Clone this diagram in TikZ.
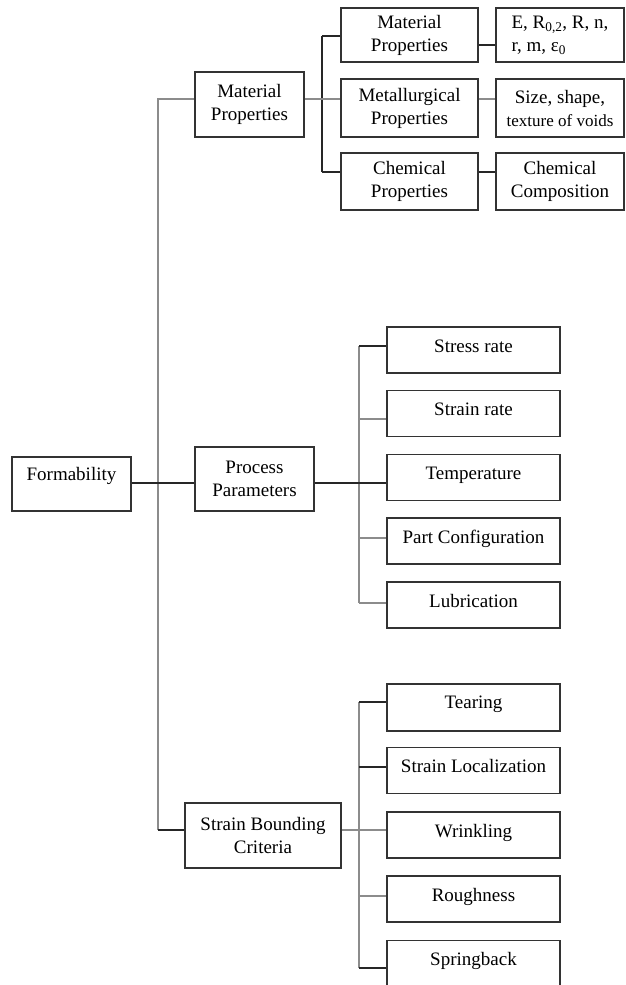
\documentclass[tikz,border=0pt]{standalone}
\usepackage{fontspec}
\setmainfont{Liberation Serif}
\usetikzlibrary{positioning}
\tikzset{
	box/.style={draw=black!80, line width=1.6pt, inner xsep=2pt, inner ysep=0pt, align=center},
	leaf/.style={box, minimum width=173pt, text height=25pt, text depth=21pt},
	link/.style={line width=1.5pt, black!85},
	glink/.style={line width=1.5pt, black!45},
}

\begin{document}
\begin{tikzpicture}[x=1pt, y=-1pt, font=\fontsize{19}{23}\selectfont]
	\useasboundingbox (0,0) rectangle (625,985);
	\fill[white] (0,0) rectangle (625,985);

	% root and the three branches
	\node[box, minimum width=119pt, text height=23pt, text depth=31pt] (form) at (71.5,484) {Formability};
	\node[box, minimum width=109pt, minimum height=65pt] (matp) at (249.5,104.5) {Material\\Properties};
	\node[box, minimum width=119pt, minimum height=64pt] (proc) at (254.5,479) {Process\\Parameters};
	\node[box, minimum width=156pt, minimum height=65pt] (crit) at (263,835.5) {Strain Bounding\\Criteria};

	% material properties
	\node[box, minimum width=137pt, minimum height=54pt] (msub) at (409.5,35) {Material\\Properties};
	\node[box, minimum width=137pt, minimum height=58pt] (metal) at (409.5,108) {Metallurgical\\Properties};
	\node[box, minimum width=137pt, minimum height=57pt] (chem) at (409.5,181.5) {Chemical\\Properties};
	\node[box, minimum width=128pt, minimum height=54pt, align=left] (consts) at (560,35) {E, R\textsubscript{0,2}, R, n,\\r, m, ε\textsubscript{0}};
	\node[box, minimum width=128pt, minimum height=58pt] (voids) at (560,108) {Size, shape,\\{\fontsize{17}{20}\selectfont texture of voids}};
	\node[box, minimum width=128pt, minimum height=57pt] (comp) at (560,181.5) {Chemical\\Composition};

	% process parameters
	\node[leaf] (stress) at (473.5,350) {Stress rate};
	\node[leaf] (strain) at (473.5,413.5) {Strain rate};
	\node[leaf] (temp) at (473.5,477.5) {Temperature};
	\node[leaf] (part) at (473.5,541) {Part Configuration};
	\node[leaf] (lub) at (473.5,605) {Lubrication};

	% strain bounding criteria
	\node[leaf, text height=24pt, text depth=23pt] (tear) at (473.5,707.5) {Tearing};
	\node[leaf] (loc) at (473.5,770.5) {Strain Localization};
	\node[leaf] (wrink) at (473.5,835) {Wrinkling};
	\node[leaf] (rough) at (473.5,899) {Roughness};
	\node[leaf] (spring) at (473.5,963.5) {Springback};

	% junction points
	\coordinate (sptop) at (158,99);
	\coordinate (spbot) at (158,830);
	\coordinate (fj) at (158,483);
	\coordinate (ma) at (322,36);
	\coordinate (me) at (322,172);
	\coordinate (mc) at (487,45);
	\coordinate (pa) at (359,346);
	\coordinate (pe) at (359,603);
	\coordinate (ca) at (359,702);
	\coordinate (ce) at (359,968);

	% spine
	\draw[glink] (matp.west |- sptop) -- (sptop) -- (spbot);
	\draw[link] (spbot) -- (crit.west |- spbot);
	\draw[link] (form.east |- fj) -- (proc.west |- fj);

	% material branch
	\draw[link] (ma) -- (me);
	\draw[link] (ma) -- (msub.west |- ma);
	\draw[link] (me) -- (chem.west |- me);
	\draw[glink] (matp.east |- sptop) -- (metal.west |- sptop);
	\draw[link] (msub.east |- mc) -- (consts.west |- mc);
	\draw[glink] (metal.east |- sptop) -- (voids.west |- sptop);
	\draw[link] (chem.east |- me) -- (comp.west |- me);

	% process branch
	\draw[glink] (pa) -- (pe);
	\draw[link] (pa) -- (stress.west |- pa);
	\draw[glink] ([yshift=-5.5pt]strain.west) -- ([yshift=-5.5pt]strain.west -| pa);
	\draw[link] (proc.east |- fj) -- (temp.west |- fj);
	\draw[glink] ([yshift=3pt]part.west) -- ([yshift=3pt]part.west -| pa);
	\draw[glink] (pe) -- (lub.west |- pe);

	% criteria branch
	\draw[glink] (ca) -- (ce);
	\draw[link] (ca) -- (tear.west |- ca);
	\draw[link] ([yshift=3.5pt]loc.west) -- ([yshift=3.5pt]loc.west -| ca);
	\draw[glink] (crit.east |- spbot) -- (wrink.west |- spbot);
	\draw[glink] ([yshift=3pt]rough.west) -- ([yshift=3pt]rough.west -| ca);
	\draw[link] (ce) -- (spring.west |- ce);
\end{tikzpicture}
\end{document}
